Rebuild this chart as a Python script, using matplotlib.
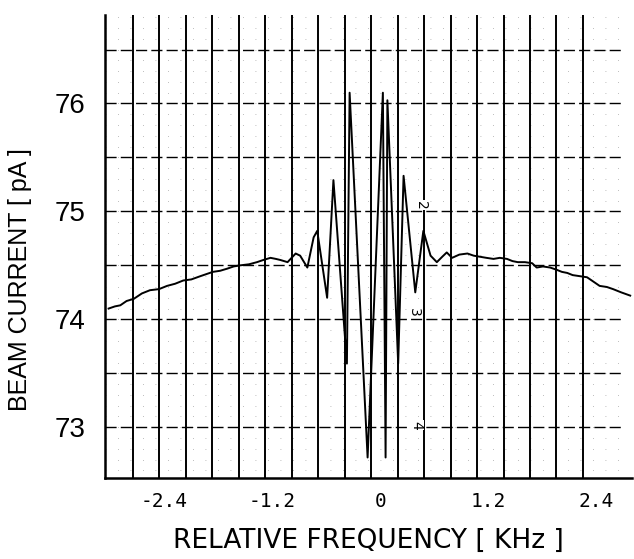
import matplotlib
matplotlib.use('Agg')
import matplotlib.pyplot as plt
import numpy as np

# pen trace (chronological order, kHz / pA)
freq_khz = [-3.02, -2.95, -2.89, -2.82, -2.74, -2.65, -2.56, -2.46, -2.37, -2.28,
            -2.19, -2.10, -2.00, -1.93, -1.86, -1.78, -1.70, -1.63, -1.56, -1.46,
            -1.37, -1.30, -1.22, -1.16, -1.11, -1.03, -0.94, -0.89, -0.81, -0.74,
            -0.70, -0.59, -0.52, -0.37, -0.34, -0.14, 0.03, 0.06, 0.08, 0.20,
            0.26, 0.39, 0.48, 0.56, 0.63, 0.69, 0.74, 0.80, 0.88, 0.97,
            1.04, 1.11, 1.18, 1.26, 1.33, 1.41, 1.47, 1.53, 1.61, 1.69,
            1.74, 1.81, 1.89, 1.96, 2.02, 2.08, 2.14, 2.22, 2.30, 2.37,
            2.44, 2.52, 2.59, 2.68, 2.78]
current_pa = [74.10, 74.12, 74.13, 74.17, 74.19, 74.24, 74.27, 74.28, 74.31, 74.33,
              74.36, 74.37, 74.40, 74.42, 74.44, 74.45, 74.47, 74.49, 74.50, 74.51,
              74.53, 74.55, 74.57, 74.56, 74.55, 74.53, 74.61, 74.59, 74.48, 74.76,
              74.82, 74.20, 75.29, 73.59, 76.10, 72.72, 76.10, 72.72, 76.03, 73.59,
              75.33, 74.25, 74.82, 74.59, 74.53, 74.58, 74.62, 74.57, 74.60, 74.61,
              74.59, 74.58, 74.57, 74.56, 74.57, 74.56, 74.54, 74.53, 74.53, 74.52,
              74.48, 74.49, 74.48, 74.46, 74.44, 74.43, 74.41, 74.40, 74.39, 74.35,
              74.31, 74.30, 74.28, 74.25, 74.22]

y_ticks = [73, 74, 75, 76]
x_ticks = [-2.4, -1.2, 0, 1.2, 2.4]
x_tick_labels = ['-2.4', '-1.2', '0', '1.2', '2.4']

# chart paper scale marks printed along one grid line
paper_marks = ['2', '3', '4']
paper_mark_x = [0.45, 0.38, 0.40]
paper_mark_y = [75.06, 74.06, 73.02]

fig = plt.figure(figsize=(6.34, 5.59), dpi=100)
ax = fig.add_axes([105/634, 81/559, 527/634, 463/559])
ax.set_xlim(-3.06, 2.8)
ax.set_ylim(72.53, 76.82)

# chart paper grid
for gx in -2.75 + 0.2944*np.arange(18):
    ax.axvline(gx, color='black', lw=1.4, zorder=1)
for gy in np.arange(73.0, 76.6, 0.5):
    ax.axhline(gy, xmax=0.98, color='black', lw=1.0, ls=(0, (8, 3)), zorder=1)
for gy in np.arange(72.6, 76.8, 0.1):
    ax.axhline(gy, xmax=0.98, color='black', lw=0.6, ls=(0, (1, 14)), alpha=0.35, zorder=1)

ax.plot(freq_khz, current_pa, color='black', lw=1.4, zorder=3)

for t, mx, my in zip(paper_marks, paper_mark_x, paper_mark_y):
    ax.text(mx, my, t, rotation=-90, fontsize=10, ha='center', va='center',
            zorder=2, bbox=dict(fc='white', ec='none', pad=0.5))

for s in ['top', 'right']:
    ax.spines[s].set_visible(False)
for s in ['left', 'bottom']:
    ax.spines[s].set_linewidth(1.8)

ax.set_yticks(y_ticks)
ax.set_yticklabels([str(v) for v in y_ticks], family='Liberation Sans', fontsize=20)
ax.set_xticks(x_ticks)
ax.set_xticklabels(x_tick_labels, family='DejaVu Sans Mono', fontsize=14)
ax.tick_params(axis='both', length=0)
ax.tick_params(axis='y', pad=14)
ax.tick_params(axis='x', pad=10)

ax.set_ylabel('BEAM CURRENT [ pA ]', family='Liberation Sans', fontsize=18)
ax.yaxis.set_label_coords(-0.138, 0.428)
ax.set_xlabel('RELATIVE FREQUENCY [ KHz ]', family='DejaVu Sans', fontsize=19, labelpad=12)

plt.savefig('out.png', dpi=100)
